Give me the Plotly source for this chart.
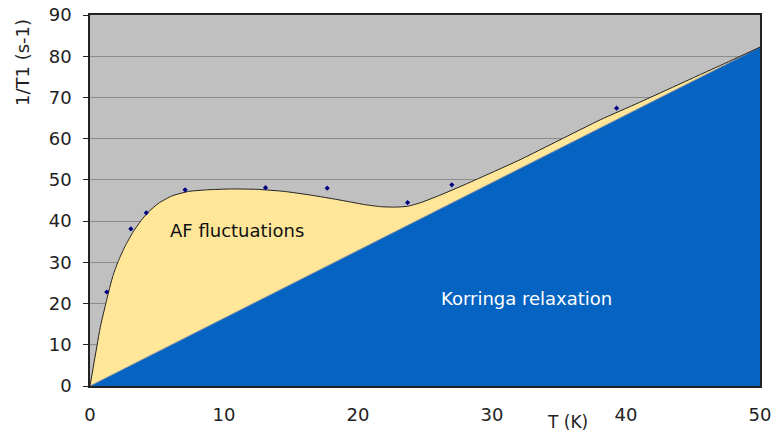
import plotly.graph_objects as go

# Measured relaxation rate 1/T1 versus temperature
t_meas = [1.25, 3.05, 4.2, 7.1, 13.1, 17.7, 23.7, 27.0, 39.3]
rate_meas = [22.8, 38.1, 42.0, 47.6, 48.1, 48.0, 44.5, 48.8, 67.4]

# Fitted total rate (Korringa + AF fluctuations)
t_fit = [0, 0.35, 0.8, 1.15, 1.45, 1.72, 2.1, 2.6, 3.2, 3.85, 4.35, 5.1, 6.1, 7.35, 8.8,
         10.5, 12.5, 14.5, 16.5, 18.5, 20.5, 21.7, 22.8, 23.7, 24.7, 26.2, 28.0, 30.0,
         32.1, 35.0, 38.1, 41.0, 44.1, 47.0, 50.0]
rate_fit = [0, 6.6, 14.8, 19.6, 23.6, 26.8, 30.2, 33.8, 37.3, 40.3, 42.2, 44.3, 46.1, 47.2,
            47.6, 47.8, 47.7, 47.2, 46.3, 45.2, 44.0, 43.5, 43.4, 43.6, 44.5, 46.4, 48.9,
            51.8, 54.9, 59.6, 64.6, 68.8, 73.4, 77.7, 82.2]

# Korringa contribution (linear in T)
t_kor = [0, 50]
rate_kor = [0, 82.2]

grey = "#C0C0C0"
blue = "#0563C1"
yellow = "#FFE699"
font = "DejaVu Sans"

fig = go.Figure()

fig.add_trace(go.Scatter(
    x=t_kor, y=rate_kor, mode="lines", fill="tozeroy",
    fillcolor=blue, line=dict(color="#7f8fa6", width=1), hoverinfo="skip"))

fig.add_trace(go.Scatter(
    x=t_fit, y=rate_fit, mode="lines", fill="tonexty",
    fillcolor=yellow, line=dict(color="#222222", width=1, shape="spline", smoothing=0.5),
    hoverinfo="skip"))

fig.add_trace(go.Scatter(
    x=t_meas, y=rate_meas, mode="markers",
    marker=dict(color="#000080", size=4, symbol="diamond")))

fig.add_annotation(x=11.0, y=37.8, text="AF fluctuations", showarrow=False,
                   font=dict(family=font, size=18, color="#111111"))
fig.add_annotation(x=32.6, y=21.2, text="Korringa relaxation", showarrow=False,
                   font=dict(family=font, size=18, color="white"))

fig.add_annotation(xref="paper", yref="paper", x=(22 - 90) / 670, y=(386 - 63) / 371,
                   xanchor="center", yanchor="middle",
                   text="1/T1 (s-1)", textangle=-90, showarrow=False,
                   font=dict(family=font, size=18, color="#222222"))
fig.add_annotation(xref="paper", yref="paper", x=(567 - 90) / 670, y=(386 - 422) / 371,
                   xanchor="center", yanchor="middle",
                   text="T (K)", showarrow=False,
                   font=dict(family=font, size=17, color="#222222"))

fig.update_layout(
    width=773, height=434,
    margin=dict(l=90, r=13, t=15, b=48),
    paper_bgcolor="white", plot_bgcolor=grey,
    showlegend=False,
    font=dict(family=font, size=16, color="#222222"),
    xaxis=dict(range=[0, 50], dtick=10, showgrid=False, zeroline=False, automargin=False,
               showline=True, linecolor="#222222", linewidth=1.5, mirror=True,
               ticks="", ticklen=0, ticklabelstandoff=12, tickfont=dict(size=18)),
    yaxis=dict(range=[0, 90], dtick=10, showgrid=True, gridcolor="#8c8c8c", gridwidth=1,
               zeroline=False, showline=True, linecolor="#222222", linewidth=1.5, mirror=True,
               automargin=False, ticks="outside", ticklen=5, tickcolor="#222222",
               ticklabelstandoff=8, tickfont=dict(size=18)),
)

fig.write_html("out.html")
